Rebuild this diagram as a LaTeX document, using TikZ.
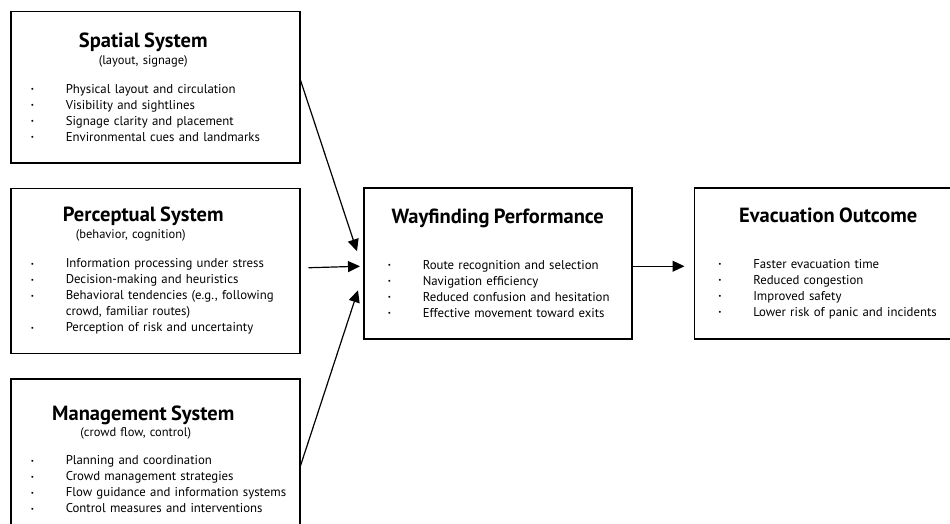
\documentclass[tikz,border=0pt]{standalone}
\usepackage{fontspec}
\setmainfont{PT Sans}
\usepackage{tikz}
\usetikzlibrary{positioning, arrows.meta, calc}
\newcommand{\Head}[2][\hsize]{\makebox[#1][c]{\fontsize{20.5}{22}\selectfont\bfseries #2}}
\newcommand{\Sub}[2][\hsize]{\makebox[#1][c]{\fontsize{12.5}{14}\selectfont #2}}
\newcommand{\Pt}[1]{\par\noindent\makebox[35pt][l]{\raisebox{0.25ex}{\scriptsize\textbullet}}\mbox{#1}}
\newcommand{\Cont}[1]{\par\noindent\hspace*{35pt}\mbox{#1}}

\begin{document}
\begin{tikzpicture}[
  x=1pt, y=1pt,
  font=\fontsize{12.8}{16}\selectfont,
  sysbox/.style={draw=black, line width=1.5pt, fill=white, anchor=north west,
                 text width=249pt, inner xsep=20pt, inner ysep=0pt, align=left},
  outbox/.style={sysbox, text width=220pt, inner xsep=24pt, minimum height=151pt},
  arr/.style={-{Triangle[length=12pt, width=11pt]}, line width=1.2pt}
]
\useasboundingbox (0,0) rectangle (950,-524);
\clip (0,0) rectangle (950,-524);

\node[sysbox, minimum height=151pt] (spatial) at (10,-11) {%
  \Head[225pt]{Spatial System}\par\vskip 1pt
  \Sub[225pt]{(layout, signage)}\par\vskip 13pt
  \Pt{Physical layout and circulation}
  \Pt{Visibility and sightlines}
  \Pt{Signage clarity and placement}
  \Pt{Environmental cues and landmarks}};

\node[sysbox, minimum height=165pt, below=24pt of spatial.south west, anchor=north west] (percept) {%
  \Head[225pt]{Perceptual System}\par\vskip 1pt
  \Sub[200pt]{(behavior, cognition)}\par\vskip 13pt
  \Pt{Information processing under stress}
  \Pt{Decision-making and heuristics}
  \Pt{Behavioral tendencies (e.g., following}
  \Cont{crowd, familiar routes)}
  \Pt{Perception of risk and uncertainty}};

\node[sysbox, minimum height=162pt, below=24pt of percept.south west, anchor=north west] (manage) {%
  \Head[225pt]{Management System}\par
  \Sub[210pt]{(crowd flow, control)}\par\vskip 12pt
  \Pt{Planning and coordination}
  \Pt{Crowd management strategies}
  \Pt{Flow guidance and information systems}
  \Pt{Control measures and interventions}};

\node[outbox] (wayfind) at (363,-187) {%
  \Head{Wayfinding Performance}\par\vskip 30pt
  \Pt{Route recognition and selection}
  \Pt{Navigation efficiency}
  \Pt{Reduced confusion and hesitation}
  \Pt{Effective movement toward exits}};

\node[outbox, right=61pt of wayfind.north east, anchor=north west] (evac) {%
  \Head{Evacuation Outcome}\par\vskip 30pt
  \Pt{Faster evacuation time}
  \Pt{Reduced congestion}
  \Pt{Improved safety}
  \Pt{Lower risk of panic and incidents}};

\draw[arr] ([yshift=7pt]spatial.east) -- ([xshift=-6pt, yshift=12pt]wayfind.west);
\draw[arr] ([xshift=8pt, yshift=3pt]percept.east) -- ([xshift=-3pt, yshift=-3pt]wayfind.west);
\draw[arr] ([yshift=-6pt]manage.east) -- ([xshift=-5pt, yshift=-27pt]wayfind.west);
\draw[arr] ([yshift=-3pt]wayfind.east) -- ([xshift=-9pt, yshift=-3pt]evac.west);

\end{tikzpicture}
\end{document}
